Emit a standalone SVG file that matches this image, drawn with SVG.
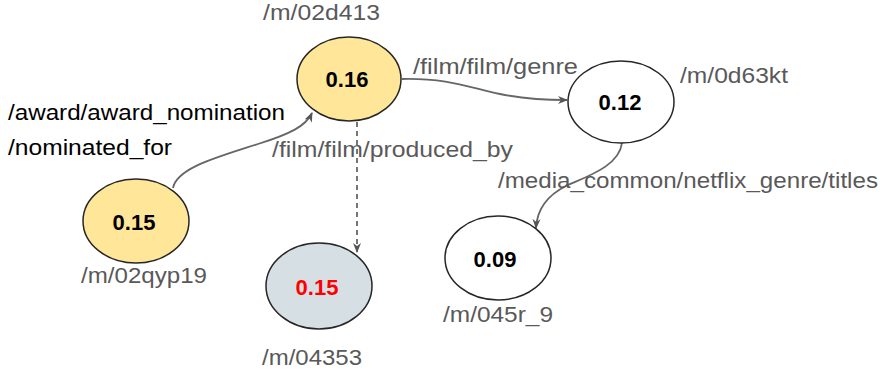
<svg xmlns="http://www.w3.org/2000/svg" width="881" height="379" viewBox="0 0 881 379">
<defs>
<style>
.lbl{font-family:"Liberation Sans",Arial,sans-serif;font-size:22px;fill:#595959}
.blk{fill:#000}
.val{font-family:"Liberation Sans",Arial,sans-serif;font-size:22px;font-weight:bold;fill:#000;text-anchor:middle}
.node{stroke:#262626;stroke-width:1.5}
.edge{fill:none;stroke:#666;stroke-width:1.8}
</style>
<marker id="arrD" viewBox="0 0 10 10" refX="9" refY="5" markerWidth="10" markerHeight="10" orient="auto" markerUnits="userSpaceOnUse">
<path d="M0,1 L10,5 L0,9 L3,5 z" fill="#555"/>
</marker>
</defs>
<rect width="881" height="379" fill="#fff"/>
<g id="connectors">
<path class="edge" d="M173,188 C177,168 215,158 258,144 C290,134 306,126 312,113" marker-end="url(#arrD)"/>
<path class="edge" d="M402,79 C450,78 470,88 500,94 C525,99 545,100 567,100" marker-end="url(#arrD)"/>
<path class="edge" d="M622,143 C619,166 588,176 566,186 C546,196 537,210 536,228" marker-end="url(#arrD)"/>
<path class="edge" d="M357,122 L357,252" stroke-dasharray="5,4" marker-end="url(#arrD)"/>
</g>
<g id="n02d413">
<ellipse class="node" cx="349" cy="79" rx="52" ry="42" fill="#FFE699"/>
<text class="val" x="347" y="87">0.16</text>
<text class="lbl" x="263" y="20" textLength="117" lengthAdjust="spacingAndGlyphs">/m/02d413</text>
</g>
<g id="n02qyp19">
<ellipse class="node" cx="136" cy="221" rx="53" ry="42" fill="#FFE699"/>
<text class="val" x="134" y="230">0.15</text>
<text class="lbl" x="81" y="283" textLength="126" lengthAdjust="spacingAndGlyphs">/m/02qyp19</text>
</g>
<g id="n04353">
<ellipse class="node" cx="319" cy="286" rx="53" ry="43" fill="#D6E0E4"/>
<text class="val" x="317" y="295" style="fill:#FF0000">0.15</text>
<text class="lbl" x="262" y="365" textLength="100" lengthAdjust="spacingAndGlyphs">/m/04353</text>
</g>
<g id="n0d63kt">
<ellipse class="node" cx="621" cy="102" rx="53" ry="41" fill="#fff"/>
<text class="val" x="620" y="110">0.12</text>
<text class="lbl" x="680" y="83" textLength="108" lengthAdjust="spacingAndGlyphs">/m/0d63kt</text>
</g>
<g id="n045r_9">
<ellipse class="node" cx="498" cy="258" rx="53" ry="42" fill="#fff"/>
<text class="val" x="495" y="267">0.09</text>
<text class="lbl" x="443" y="322" textLength="110" lengthAdjust="spacingAndGlyphs">/m/045r_9</text>
</g>
<g id="edge-labels">
<text class="lbl blk" x="8" y="120" textLength="277" lengthAdjust="spacingAndGlyphs">/award/award_nomination</text>
<text class="lbl blk" x="8" y="155" textLength="164" lengthAdjust="spacingAndGlyphs">/nominated_for</text>
<text class="lbl" x="413" y="74" textLength="165" lengthAdjust="spacingAndGlyphs">/film/film/genre</text>
<text class="lbl" x="272" y="157" textLength="241" lengthAdjust="spacingAndGlyphs">/film/film/produced_by</text>
<text class="lbl" x="498" y="188" textLength="380" lengthAdjust="spacingAndGlyphs">/media_common/netflix_genre/titles</text>
</g>
</svg>
